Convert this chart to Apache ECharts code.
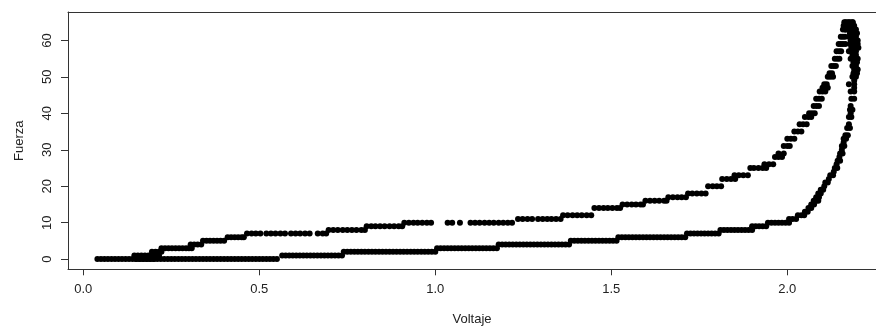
<!DOCTYPE html>
<html>
<head>
<meta charset="utf-8">
<script src="https://cdn.jsdelivr.net/npm/echarts@6/dist/echarts.min.js"></script>
<style>
  html, body { margin: 0; padding: 0; background: #fff; }
  #chart { width: 876px; height: 327px; }
</style>
</head>
<body>
<div id="chart"></div>
<script>
// Loading branch: each force level and the voltages recorded while at that level
const loadForce = [0, 1, 2, 3, 4, 5, 6, 7, 8, 9, 10, 11, 12, 14, 15, 16, 17, 18, 20, 22, 23, 25, 26, 28, 29,
  31, 33, 35, 37, 39, 40, 42, 44, 46, 47, 48, 50, 51, 53, 55, 57, 59, 61, 63, 64, 65];
const loadVolt = [
  [0.040, 0.050, 0.060, 0.070, 0.080, 0.090, 0.100, 0.110, 0.120, 0.130, 0.140, 0.150, 0.160, 0.170, 0.180, 0.190, 0.200],
  [0.145, 0.155, 0.165, 0.175, 0.185, 0.195, 0.205, 0.215],
  [0.195, 0.205, 0.215, 0.222],
  [0.222, 0.232, 0.242, 0.252, 0.262, 0.272, 0.282, 0.292, 0.300, 0.308],
  [0.305, 0.315, 0.325, 0.335],
  [0.340, 0.350, 0.360, 0.370, 0.380, 0.390, 0.400],
  [0.410, 0.420, 0.430, 0.440, 0.450, 0.456],
  [0.465, 0.478, 0.490, 0.503, 0.520, 0.533, 0.546, 0.560, 0.573, 0.590, 0.603, 0.616, 0.630, 0.643, 0.666, 0.680, 0.690],
  [0.697, 0.710, 0.723, 0.737, 0.750, 0.763, 0.776, 0.790, 0.800],
  [0.805, 0.818, 0.830, 0.843, 0.856, 0.870, 0.883, 0.896, 0.906],
  [0.912, 0.925, 0.938, 0.950, 0.963, 0.976, 0.988, 1.035, 1.048, 1.070, 1.100, 1.113, 1.126, 1.140, 1.153, 1.166, 1.180, 1.193, 1.206, 1.218],
  [1.235, 1.248, 1.262, 1.275, 1.292, 1.305, 1.318, 1.330, 1.343, 1.356],
  [1.363, 1.376, 1.390, 1.403, 1.416, 1.430, 1.443],
  [1.452, 1.465, 1.478, 1.490, 1.503, 1.516, 1.525],
  [1.532, 1.545, 1.558, 1.570, 1.583, 1.590],
  [1.597, 1.610, 1.623, 1.636, 1.650, 1.657],
  [1.662, 1.675, 1.688, 1.700, 1.712],
  [1.718, 1.730, 1.743, 1.756, 1.768],
  [1.775, 1.788, 1.800, 1.812],
  [1.815, 1.828, 1.840, 1.852],
  [1.850, 1.862, 1.875, 1.888],
  [1.895, 1.905, 1.918, 1.930, 1.940],
  [1.935, 1.948, 1.960],
  [1.965, 1.975, 1.985],
  [1.975, 1.990],
  [1.990, 2.000, 2.007],
  [2.000, 2.010, 2.020],
  [2.020, 2.030, 2.040],
  [2.035, 2.045, 2.055],
  [2.050, 2.060, 2.068],
  [2.062, 2.070, 2.078],
  [2.075, 2.083, 2.090],
  [2.082, 2.090, 2.098],
  [2.092, 2.100, 2.108],
  [2.100, 2.108, 2.115],
  [2.105, 2.112],
  [2.115, 2.122, 2.130],
  [2.120, 2.127],
  [2.125, 2.132, 2.138],
  [2.135, 2.142, 2.148],
  [2.140, 2.147, 2.153],
  [2.146, 2.152, 2.158],
  [2.152, 2.158, 2.164],
  [2.158, 2.165, 2.172],
  [2.160, 2.168, 2.176, 2.184],
  [2.162, 2.170, 2.178, 2.186]
];

// Unloading branch: from the peak back down to zero force
const unloadForce = [65, 64, 63, 62, 61, 60, 59, 58, 57, 56, 55, 54, 53, 52, 51, 50, 49, 48, 47, 46, 44, 42, 41, 40,
  39, 37, 36, 34, 33, 32, 31, 30, 29, 28, 27, 26, 25, 24, 23, 22, 21, 20, 19, 18, 17, 16, 15, 14, 13, 12, 11, 10,
  9, 8, 7, 6, 5, 4, 3, 2, 1, 0];
const unloadVolt = [
  [2.165, 2.175, 2.185],
  [2.170, 2.180, 2.190],
  [2.165, 2.175, 2.185, 2.195],
  [2.178, 2.188, 2.198],
  [2.175, 2.185, 2.195],
  [2.180, 2.190, 2.200],
  [2.165, 2.178, 2.190, 2.200],
  [2.182, 2.192, 2.202],
  [2.175, 2.185, 2.195],
  [2.185, 2.195],
  [2.180, 2.190, 2.200],
  [2.188, 2.198],
  [2.185, 2.195],
  [2.190, 2.200],
  [2.188, 2.198],
  [2.185, 2.195],
  [2.190],
  [2.175, 2.190],
  [2.190],
  [2.180, 2.190],
  [2.182, 2.190],
  [2.180],
  [2.178, 2.185],
  [2.180],
  [2.175, 2.182],
  [2.175],
  [2.170, 2.178],
  [2.165, 2.172],
  [2.160, 2.167],
  [2.160],
  [2.155, 2.162],
  [2.155],
  [2.150, 2.157],
  [2.148],
  [2.143, 2.150],
  [2.140],
  [2.135, 2.142],
  [2.132],
  [2.122, 2.130],
  [2.118],
  [2.108, 2.115],
  [2.105],
  [2.095, 2.102],
  [2.088, 2.095],
  [2.082, 2.090],
  [2.075, 2.082, 2.088],
  [2.068, 2.076],
  [2.060, 2.068],
  [2.050, 2.058],
  [2.030, 2.040, 2.048],
  [2.005, 2.015, 2.025],
  [1.945, 1.955, 1.965, 1.975, 1.985, 1.995, 2.005],
  [1.900, 1.910, 1.920, 1.930, 1.940],
  [1.810, 1.820, 1.830, 1.840, 1.850, 1.860, 1.870, 1.880, 1.890, 1.900],
  [1.715, 1.725, 1.735, 1.745, 1.755, 1.765, 1.775, 1.785, 1.795, 1.805],
  [1.520, 1.530, 1.540, 1.550, 1.560, 1.570, 1.580, 1.590, 1.600, 1.610, 1.620, 1.630, 1.640, 1.650, 1.660,
   1.670, 1.680, 1.690, 1.700, 1.710],
  [1.385, 1.395, 1.405, 1.415, 1.425, 1.435, 1.445, 1.455, 1.465, 1.475, 1.485, 1.495, 1.505, 1.515],
  [1.180, 1.190, 1.200, 1.210, 1.220, 1.230, 1.240, 1.250, 1.260, 1.270, 1.280, 1.290, 1.300, 1.310, 1.320,
   1.330, 1.340, 1.350, 1.360, 1.370, 1.380],
  [1.005, 1.015, 1.025, 1.035, 1.045, 1.055, 1.065, 1.075, 1.085, 1.095, 1.105, 1.115, 1.125, 1.135, 1.145,
   1.155, 1.165, 1.175],
  [0.740, 0.750, 0.760, 0.770, 0.780, 0.790, 0.800, 0.810, 0.820, 0.830, 0.840, 0.850, 0.860, 0.870, 0.880,
   0.890, 0.900, 0.910, 0.920, 0.930, 0.940, 0.950, 0.960, 0.970, 0.980, 0.990, 1.000],
  [0.565, 0.575, 0.585, 0.595, 0.605, 0.615, 0.625, 0.635, 0.645, 0.655, 0.665, 0.675, 0.685, 0.695, 0.705,
   0.715, 0.725, 0.735],
  [0.150, 0.160, 0.170, 0.180, 0.190, 0.200, 0.210, 0.220, 0.230, 0.240, 0.250, 0.260, 0.270, 0.280, 0.290,
   0.300, 0.310, 0.320, 0.330, 0.340, 0.350, 0.360, 0.370, 0.380, 0.390, 0.400, 0.410, 0.420, 0.430, 0.440,
   0.450, 0.460, 0.470, 0.480, 0.490, 0.500, 0.510, 0.520, 0.530, 0.540, 0.550]
];

// Axis ticks
const xTicks = [0, 0.5, 1, 1.5, 2];
const yTicks = [0, 10, 20, 30, 40, 50, 60];

// Flatten a level table into [voltage, force] pairs
function toPoints(forces, volts) {
  const pts = [];
  forces.forEach((f, i) => volts[i].forEach(v => pts.push([v, f])));
  return pts;
}

const ink = '#333';
const font = 'Liberation Sans, Arial, Helvetica, sans-serif';
const labelStyle = { color: '#222', fontFamily: font, fontSize: 13 };
const frame = { show: true, onZero: false, lineStyle: { color: ink, width: 1 } };
const dot = { color: '#000', opacity: 1 };

const xMin = -0.0435, xMax = 2.252;

const chart = echarts.init(document.getElementById('chart'), null, { renderer: 'canvas' });
chart.setOption({
  animation: false,
  backgroundColor: '#fff',
  grid: { left: 68, top: 12, right: 0, bottom: 57.7, containLabel: false, outerBoundsMode: 'none' },
  xAxis: [
    {
      type: 'value', min: xMin, max: xMax,
      axisLine: frame,
      axisTick: { show: true, inside: false, length: 6, customValues: xTicks, lineStyle: { color: ink, width: 1 } },
      axisLabel: Object.assign({ customValues: xTicks, margin: 14, formatter: v => v.toFixed(1) }, labelStyle),
      splitLine: { show: false },
      name: 'Voltaje', nameLocation: 'middle', nameGap: 44,
      nameTextStyle: labelStyle
    },
    {
      type: 'value', position: 'top', min: xMin, max: xMax,
      axisLine: frame, axisTick: { show: false }, axisLabel: { show: false }, splitLine: { show: false }
    }
  ],
  yAxis: {
    type: 'value', min: -2.8, max: 67.8,
    axisLine: frame,
    axisTick: { show: true, inside: false, length: 7, customValues: yTicks, lineStyle: { color: ink, width: 1 } },
    axisLabel: Object.assign({ customValues: yTicks, margin: 14, rotate: 90 }, labelStyle),
    splitLine: { show: false },
    name: 'Fuerza', nameLocation: 'middle', nameGap: 42, nameRotate: 90,
    nameTextStyle: labelStyle
  },
  series: [
    {
      name: 'carga', type: 'scatter', xAxisIndex: 0,
      data: toPoints(loadForce, loadVolt),
      symbol: 'circle', symbolSize: 6,
      itemStyle: dot
    },
    {
      name: 'descarga', type: 'scatter', xAxisIndex: 0,
      data: toPoints(unloadForce, unloadVolt),
      symbol: 'circle', symbolSize: 6,
      itemStyle: dot
    }
  ]
});
</script>
</body>
</html>
